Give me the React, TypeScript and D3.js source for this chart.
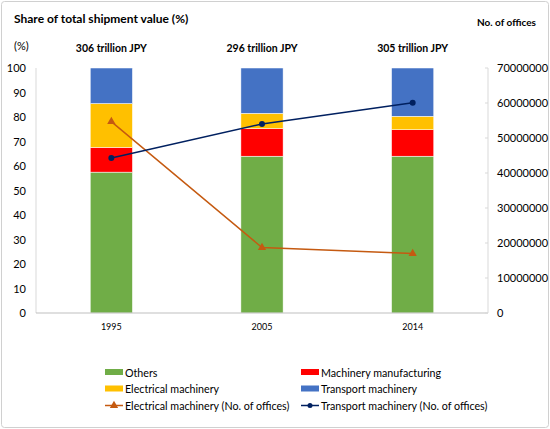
import * as d3 from "d3";
import React from "react";

const years = ["1995", "2005", "2014"];
const totals = ["306 trillion JPY", "296 trillion JPY", "305 trillion JPY"];
const shareSeries = ["Others", "Machinery manufacturing", "Electrical machinery", "Transport machinery"];
const others = [57.5, 64.0, 64.0];
const machinery = [10.1, 11.3, 10.8];
const electrical = [17.9, 6.2, 5.5];
const transport = [14.5, 18.5, 19.7];
const electricalOffices = [54700000, 18700000, 17000000];
const transportOffices = [44300000, 54000000, 60100000];
const leftTicks = [0, 10, 20, 30, 40, 50, 60, 70, 80, 90, 100];
const rightTicks = [0, 10000000, 20000000, 30000000, 40000000, 50000000, 60000000, 70000000];

const colors: { [k: string]: string } = {
  "Others": "#70AD47",
  "Machinery manufacturing": "#FF0000",
  "Electrical machinery": "#FFC000",
  "Transport machinery": "#4472C4",
};
const elecLine = "#C55A11";
const transLine = "#002060";

const W = 550, H = 429;
const m = { l: 36, r: 488, t: 68, b: 313 };
const font = "Lato, 'Noto Sans', sans-serif";

const App: React.FC = () => {
  const x = d3.scaleBand(years, [m.l, m.r]).paddingInner(0.72).paddingOuter(0.36);
  const y = d3.scaleLinear([0, 100], [m.b, m.t]);
  const y2 = d3.scaleLinear([0, 70000000], [m.b, m.t]);

  const rows = years.map((yr, i) => ({
    year: yr,
    "Others": others[i],
    "Machinery manufacturing": machinery[i],
    "Electrical machinery": electrical[i],
    "Transport machinery": transport[i],
  }));
  const stacked = d3.stack<any>().keys(shareSeries)(rows);
  const cx = (yr: string) => (x(yr) ?? 0) + x.bandwidth() / 2;

  const line = d3.line<number>().x((_, i) => cx(years[i])).y(d => y2(d));
  const tri = d3.symbol(d3.symbolTriangle, 30)() ?? "";

  return (
    <div style={{ position: "absolute", left: 0, top: 0 }}>
      <svg width={W} height={H} style={{ fontFamily: font, display: "block" }}>
        <rect x={1.5} y={1.5} width={W - 3} height={H - 3} rx={3} fill="#fff" stroke="#D0D0D0" />
        <text x={14} y={23} fontSize={12} fontWeight="bold" fill="#000">Share of total shipment value (%)</text>
        <text x={477} y={26} fontSize={10} fontWeight="bold" fill="#000">No. of offices</text>
        <text x={14} y={50} fontSize={11} fill="#000">(%)</text>
        {years.map((yr, i) => (
          <text key={yr} x={cx(yr)} y={52} fontSize={10.5} fontWeight="bold" textAnchor="middle" fill="#000">{totals[i]}</text>
        ))}

        {stacked.map(s => (
          <g key={s.key} fill={colors[s.key]}>
            {s.map((d, i) => (
              <rect key={i} x={x(years[i])} y={y(d[1])} width={x.bandwidth()} height={y(d[0]) - y(d[1])} stroke="#fff" strokeWidth={0.5} />
            ))}
          </g>
        ))}

        <line x1={m.l} x2={m.l} y1={m.t} y2={m.b} stroke="#D9D9D9" />
        <line x1={m.l} x2={m.r} y1={m.b} y2={m.b} stroke="#BFBFBF" />
        <line x1={m.r} x2={m.r} y1={m.t} y2={m.b} stroke="#D9D9D9" />

        {leftTicks.map(t => (
          <text key={t} x={26} y={y(t) + 4} fontSize={11} textAnchor="end" fill="#000">{t}</text>
        ))}
        {rightTicks.map(t => (
          <g key={t}>
            <line x1={m.r - 3} x2={m.r} y1={y2(t)} y2={y2(t)} stroke="#D9D9D9" />
            <text x={497} y={y2(t) + 4} fontSize={11} fill="#000">{t}</text>
          </g>
        ))}
        {years.map(yr => (
          <text key={yr} x={cx(yr)} y={329.5} fontSize={9} textAnchor="middle" fill="#000">{yr}</text>
        ))}

        <path d={line(electricalOffices) ?? ""} fill="none" stroke={elecLine} strokeWidth={1.5} />
        {electricalOffices.map((v, i) => (
          <path key={i} d={tri} transform={`translate(${cx(years[i])},${y2(v)})`} fill={elecLine} />
        ))}
        <path d={line(transportOffices) ?? ""} fill="none" stroke={transLine} strokeWidth={1.5} />
        {transportOffices.map((v, i) => (
          <circle key={i} cx={cx(years[i])} cy={y2(v)} r={3} fill={transLine} />
        ))}

        {/* legend */}
        <g fontSize={10.7} fill="#000">
          <rect x={105} y={369} width={18} height={6} fill={colors["Others"]} />
          <text x={125} y={376.5}>Others</text>
          <rect x={301} y={369} width={18} height={6} fill={colors["Machinery manufacturing"]} />
          <text x={321} y={376.5}>Machinery manufacturing</text>
          <rect x={105} y={385.5} width={18} height={6} fill={colors["Electrical machinery"]} />
          <text x={125} y={393}>Electrical machinery</text>
          <rect x={301} y={385.5} width={18} height={6} fill={colors["Transport machinery"]} />
          <text x={321} y={393}>Transport machinery</text>
          <line x1={105} x2={123} y1={405.5} y2={405.5} stroke={elecLine} strokeWidth={1.5} />
          <path d={tri} transform="translate(114,405.5)" fill={elecLine} />
          <text x={125} y={409.5}>Electrical machinery (No. of offices)</text>
          <line x1={301} x2={319} y1={405.5} y2={405.5} stroke={transLine} strokeWidth={1.5} />
          <circle cx={310} cy={405.5} r={2.5} fill={transLine} />
          <text x={321} y={409.5}>Transport machinery (No. of offices)</text>
        </g>
      </svg>
    </div>
  );
};

export default App;
